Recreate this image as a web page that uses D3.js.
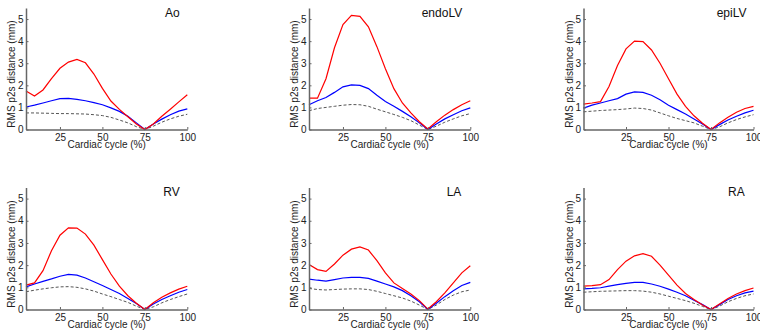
<!DOCTYPE html>
<html>
<head>
<meta charset="UTF-8">
<script src="https://d3js.org/d3.v7.min.js"></script>
<style>
    body { margin: 0; background: white; }
    text { font-family: "Liberation Sans", Arial, sans-serif; }
    .tick-label { font-size: 10px; fill: #222; }
    .axis-label { font-size: 10px; fill: #222; }
    .title { font-size: 12px; fill: #111; }
</style>
</head>
<body>
<svg id="chart" width="760" height="333"></svg>
<script>
    // x positions (cardiac cycle %)
    var cycle5 = [5,10,15,20,25,30,35,40,45,50,55,60,65,70,75,80,85,90,95,100]
    var cycle0 = [0,5,10,15,20,25,30,35,40,45,50,55,60,65,70,75,80,85,90,95,100]

    var xTicks = [25, 50, 75, 100]
    var yTicks = [0, 1, 2, 3, 4, 5]
    var panelNames = ["Ao", "endoLV", "epiLV", "RV", "LA", "RA"]

    // red / blue / dashed grey series for each structure
    var aoRed  = [1.74,1.52,1.79,2.3,2.77,3.05,3.17,3.02,2.51,1.86,1.29,0.91,0.58,0.25,0.0,0.25,0.6,0.92,1.25,1.57]
    var aoBlue = [1.02,1.1,1.2,1.3,1.4,1.41,1.36,1.3,1.22,1.12,0.98,0.82,0.6,0.3,0.0,0.25,0.47,0.67,0.83,0.93]
    var aoGrey = [0.75,0.75,0.74,0.73,0.72,0.72,0.71,0.7,0.67,0.63,0.55,0.43,0.3,0.13,0.0,0.15,0.33,0.48,0.6,0.69]

    var endoRed  = [1.42,1.42,2.3,3.7,4.75,5.17,5.12,4.65,3.75,2.75,1.85,1.2,0.75,0.35,0.02,0.35,0.65,0.9,1.12,1.3]
    var endoBlue = [1.12,1.3,1.45,1.68,1.93,2.02,2.0,1.85,1.55,1.27,1.05,0.82,0.58,0.3,0.0,0.25,0.48,0.67,0.85,0.98]
    var endoGrey = [0.85,0.95,1.0,1.05,1.1,1.13,1.12,1.05,0.92,0.8,0.68,0.55,0.4,0.2,0.0,0.15,0.33,0.48,0.62,0.72]

    var epiRed  = [1.15,1.2,1.26,1.95,2.9,3.65,4.0,3.98,3.6,3.0,2.3,1.6,1.05,0.62,0.28,0.0,0.3,0.55,0.78,0.95,1.05]
    var epiBlue = [0.97,1.1,1.2,1.3,1.4,1.6,1.7,1.68,1.55,1.35,1.1,0.9,0.7,0.48,0.25,0.0,0.22,0.43,0.6,0.75,0.87]
    var epiGrey = [0.8,0.83,0.86,0.88,0.9,0.93,0.97,0.95,0.88,0.75,0.62,0.5,0.4,0.3,0.15,0.0,0.12,0.3,0.45,0.57,0.67]

    var rvRed  = [1.1,1.2,1.75,2.65,3.35,3.68,3.67,3.4,2.9,2.25,1.6,1.05,0.62,0.28,0.0,0.3,0.55,0.75,0.92,1.05]
    var rvBlue = [1.02,1.15,1.27,1.38,1.5,1.58,1.55,1.42,1.25,1.08,0.9,0.72,0.5,0.27,0.0,0.25,0.45,0.62,0.78,0.9]
    var rvGrey = [0.8,0.87,0.93,0.98,1.02,1.03,1.0,0.93,0.83,0.7,0.58,0.45,0.32,0.15,0.0,0.12,0.3,0.45,0.58,0.7]

    var laRed  = [2.03,1.8,1.72,2.05,2.45,2.72,2.82,2.68,2.2,1.65,1.2,0.95,0.7,0.4,0.02,0.35,0.75,1.2,1.65,1.97]
    var laBlue = [1.37,1.32,1.28,1.35,1.42,1.45,1.45,1.4,1.28,1.15,1.02,0.85,0.62,0.35,0.0,0.28,0.58,0.85,1.08,1.22]
    var laGrey = [0.95,0.9,0.88,0.9,0.92,0.93,0.93,0.9,0.82,0.72,0.62,0.52,0.38,0.2,0.0,0.2,0.45,0.65,0.8,0.88]

    var raRed  = [1.05,1.08,1.12,1.35,1.8,2.18,2.42,2.52,2.4,2.0,1.55,1.1,0.72,0.45,0.2,0.0,0.25,0.5,0.7,0.85,0.97]
    var raBlue = [0.93,0.95,0.98,1.05,1.12,1.18,1.22,1.22,1.15,1.05,0.92,0.78,0.62,0.42,0.22,0.0,0.22,0.45,0.62,0.75,0.83]
    var raGrey = [0.78,0.8,0.82,0.83,0.84,0.85,0.85,0.83,0.78,0.7,0.6,0.5,0.4,0.28,0.14,0.0,0.15,0.35,0.5,0.62,0.7]

    var panels = [
        {name: panelNames[0], xs: cycle5, red: aoRed,   blue: aoBlue,   grey: aoGrey},
        {name: panelNames[1], xs: cycle5, red: endoRed, blue: endoBlue, grey: endoGrey},
        {name: panelNames[2], xs: cycle0, red: epiRed,  blue: epiBlue,  grey: epiGrey},
        {name: panelNames[3], xs: cycle5, red: rvRed,   blue: rvBlue,   grey: rvGrey},
        {name: panelNames[4], xs: cycle5, red: laRed,   blue: laBlue,   grey: laGrey},
        {name: panelNames[5], xs: cycle0, red: raRed,   blue: raBlue,   grey: raGrey}
    ]

    // layout of the 3x2 grid
    var colLeft  = [26, 309, 583.5]
    var colRight = [187.3, 470.3, 753.5]
    var rowZero  = [129.5, 309.5]
    var rowTop   = [8, 187.5]
    var titleX   = [165, 421.7, 716.7, 163.3, 446.7, 728]

    var svg = d3.select("#chart")

    panels.forEach(function(p, i){
        var col = i % 3, row = Math.floor(i / 3)
        var x = d3.scaleLinear().domain([p.xs[0], 100]).range([colLeft[col], colRight[col]])
        var y = d3.scaleLinear().domain([0, 5.5]).range([rowZero[row], rowTop[row]])
        var g = svg.append("g")

        var line = d3.line()
            .x(function(d, j){ return x(p.xs[j]) })
            .y(function(d){ return y(d) })

        g.append("path").attr("d", line(p.grey)).attr("fill", "none")
            .attr("stroke", "#555").attr("stroke-width", 1).attr("stroke-dasharray", "3,2")
        g.append("path").attr("d", line(p.blue)).attr("fill", "none")
            .attr("stroke", "#0000ff").attr("stroke-width", 1.2)
        g.append("path").attr("d", line(p.red)).attr("fill", "none")
            .attr("stroke", "#ff0000").attr("stroke-width", 1.2)

        // axes: ticks point inward like matlab
        var xAxis = d3.axisBottom(x).tickValues(xTicks).tickFormat(d3.format("d"))
            .tickSizeInner(-2.5).tickSizeOuter(0).tickPadding(4)
        var yAxis = d3.axisLeft(y).tickValues(yTicks).tickFormat(d3.format("d"))
            .tickSizeInner(-2.5).tickSizeOuter(0).tickPadding(2.5)

        var ga = g.append("g").attr("transform", "translate(0," + rowZero[row] + ")").call(xAxis)
        var gb = g.append("g").attr("transform", "translate(" + colLeft[col] + ",0)").call(yAxis)
        ;[ga, gb].forEach(function(a){
            a.attr("font-family", null).attr("font-size", null)
            a.select(".domain").attr("stroke", "#666").attr("stroke-width", 1.5)
            a.selectAll(".tick line").attr("stroke", "#666")
            a.selectAll(".tick text").attr("class", "tick-label").attr("fill", null)
        })

        g.append("text").attr("class", "axis-label")
            .attr("x", (colLeft[col] + colRight[col]) / 2).attr("y", rowZero[row] + 18.5)
            .attr("text-anchor", "middle").text("Cardiac cycle (%)")

        g.append("text").attr("class", "axis-label")
            .attr("transform", "translate(" + (colLeft[col] - 11) + "," + (rowZero[row] - 55.5) + ") rotate(-90)")
            .attr("text-anchor", "middle").text("RMS p2s distance (mm)")

        g.append("text").attr("class", "title")
            .attr("x", titleX[i]).attr("y", rowTop[row] + 8.7)
            .text(p.name)
    })
</script>
</body>
</html>
